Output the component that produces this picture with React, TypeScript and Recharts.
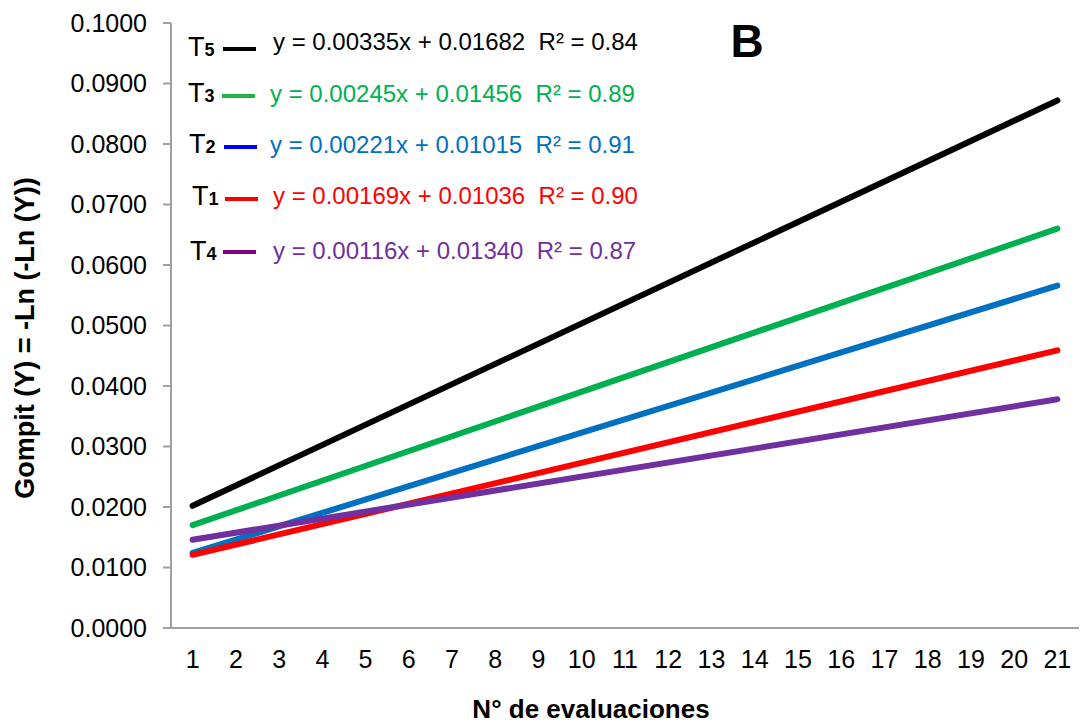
import { LineChart, Line, XAxis, YAxis } from 'recharts';

// x positions of the two ends of each fitted line
const evalRange = [1, 21];

// values at x = 1 and x = 21
const t5Values = [0.0202, 0.0872];
const t3Values = [0.0170, 0.0660];
const t2Values = [0.0124, 0.0566];
const t1Values = [0.0121, 0.0459];
const t4Values = [0.0146, 0.0378];

const xTicks = [1, 2, 3, 4, 5, 6, 7, 8, 9, 10, 11, 12, 13, 14, 15, 16, 17, 18, 19, 20, 21];
const yTicks = [0, 0.01, 0.02, 0.03, 0.04, 0.05, 0.06, 0.07, 0.08, 0.09, 0.1];

const series = [
  { key: 'T5', sub: '5', values: t5Values, color: '#000000', legendColor: '#000000', eq: 'y = 0.00335x + 0.01682  R² = 0.84' },
  { key: 'T3', sub: '3', values: t3Values, color: '#00b050', legendColor: '#22b14c', eq: 'y = 0.00245x + 0.01456  R² = 0.89' },
  { key: 'T2', sub: '2', values: t2Values, color: '#0070c0', legendColor: '#0000ff', eq: 'y = 0.00221x + 0.01015  R² = 0.91' },
  { key: 'T1', sub: '1', values: t1Values, color: '#ff0000', legendColor: '#ff0000', eq: 'y = 0.00169x + 0.01036  R² = 0.90' },
  { key: 'T4', sub: '4', values: t4Values, color: '#7030a0', legendColor: '#800080', eq: 'y = 0.00116x + 0.01340  R² = 0.87' },
];

// layout of the legend rows (picture pixels)
const legendRows = [
  { tx: 188, tBase: 56, lineY: 49, lx: 223, ex: 273, eBase: 50 },
  { tx: 188, tBase: 102, lineY: 96, lx: 222, ex: 270, eBase: 102 },
  { tx: 189, tBase: 153, lineY: 147, lx: 224, ex: 270, eBase: 153 },
  { tx: 192, tBase: 205, lineY: 199, lx: 225, ex: 273, eBase: 204 },
  { tx: 190, tBase: 260, lineY: 252, lx: 223, ex: 273, eBase: 259 },
];

const font = '"Liberation Sans", Arial, sans-serif';

export default function App() {
  return (
    <div style={{ position: 'absolute', left: 0, top: 0, width: 1081, height: 726, background: '#fff', fontFamily: font }}>
      <LineChart width={1081} height={726} margin={{ top: 23, right: 2, bottom: 38, left: 0 }}>
        <XAxis
          type="number"
          dataKey="x"
          domain={[0.5, 21.5]}
          ticks={xTicks}
          interval={0}
          allowDuplicatedCategory={false}
          height={60}
          tickLine={false}
          tickSize={0}
          tickMargin={22}
          axisLine={{ stroke: '#a0a0a0', strokeWidth: 2 }}
          tick={{ fill: '#000', fontSize: 25, fontFamily: font }}
        />
        <YAxis
          type="number"
          domain={[0, 0.1]}
          ticks={yTicks}
          interval={0}
          width={171}
          tickSize={8}
          tickMargin={16}
          tickFormatter={(v: number) => v.toFixed(4)}
          axisLine={{ stroke: '#a0a0a0', strokeWidth: 2 }}
          tickLine={{ stroke: '#a0a0a0', strokeWidth: 2 }}
          tick={{ fill: '#000', fontSize: 25, fontFamily: font }}
        />
        {series.map(s => (
          <Line
            key={s.key}
            data={evalRange.map((x, i) => ({ x, y: s.values[i] }))}
            dataKey="y"
            type="linear"
            stroke={s.color}
            strokeWidth={6}
            strokeLinecap="round"
            dot={false}
            activeDot={false}
            isAnimationActive={false}
          />
        ))}
      </LineChart>
      <svg width={1081} height={726} style={{ position: 'absolute', left: 0, top: 0, pointerEvents: 'none' }}>
        {series.map((s, i) => {
          const r = legendRows[i];
          return (
            <g key={s.key}>
              <text x={r.tx} y={r.tBase} fontSize={27} fill="#000" fontFamily={font}>
                T<tspan fontSize={18} fontWeight="bold">{s.sub}</tspan>
              </text>
              <line x1={r.lx} x2={r.lx + 33} y1={r.lineY} y2={r.lineY} stroke={s.legendColor} strokeWidth={4} />
              <text x={r.ex} y={r.eBase} fontSize={24} fill={s.color} fontFamily={font} style={{ whiteSpace: 'pre' }}>
                {s.eq}
              </text>
            </g>
          );
        })}
        <text x={747} y={57} fontSize={46} fontWeight="bold" textAnchor="middle" fill="#000" fontFamily={font}>B</text>
        <text x={591} y={718} fontSize={26} fontWeight="bold" textAnchor="middle" fill="#000" fontFamily={font}>N° de evaluaciones</text>
        <text
          x={0}
          y={0}
          transform="translate(34, 338) rotate(-90)"
          fontSize={27}
          fontWeight="bold"
          textAnchor="middle"
          fill="#000"
          fontFamily={font}
        >
          Gompit (Y) = -Ln (-Ln (Y))
        </text>
      </svg>
    </div>
  );
}
